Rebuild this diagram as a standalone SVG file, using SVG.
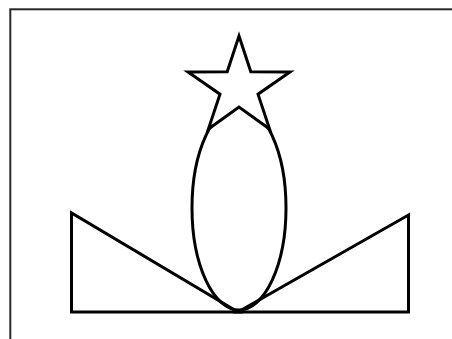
<svg xmlns="http://www.w3.org/2000/svg" width="452" height="339" viewBox="0 0 452 339">
<style>
.s{fill:#fff;stroke:#000;stroke-width:3;stroke-linejoin:miter}
.t{fill:none;stroke:#000;stroke-width:3;stroke-linejoin:miter}
</style>
<rect width="452" height="339" fill="#fff"/>
<rect id="frame" x="10.3" y="9.3" width="470" height="360" fill="none" stroke="#2a2a2a" stroke-width="2"/>
<g id="left-triangle"><polygon class="t" points="71.5,213 71.5,312 238,312"/></g>
<g id="right-triangle"><polygon class="t" points="408.5,215 408.5,312 238,312"/></g>
<g id="ellipse"><ellipse class="t" cx="239" cy="208" rx="47" ry="102"/></g>
<g id="star"><polygon class="s" points="239,36 250.8,71.8 290,71.9 258,94.2 269.6,129 239,107 208.4,129 220,94.2 188,71.9 227.2,71.8"/></g>
</svg>
